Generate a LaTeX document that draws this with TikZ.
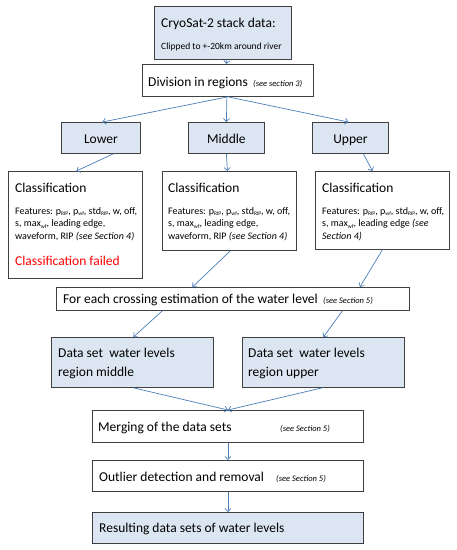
\documentclass[tikz,border=0pt]{standalone}
\usepackage{fontspec}
\setmainfont{Carlito}
\usetikzlibrary{arrows.meta,shadows}
\definecolor{boxfill}{HTML}{DCE6F2}
\definecolor{arrowblue}{HTML}{4A7EBB}
\definecolor{edgegray}{HTML}{404040}
\newcommand{\rsub}[1]{\raisebox{-0.35ex}{\fontsize{5.5}{6}\selectfont #1}}
\begin{document}
\begin{tikzpicture}[x=1pt,y=-1pt,
  box/.style={draw=edgegray, line width=0.8pt, inner sep=0pt, anchor=north west, fill=white,
    drop shadow={shadow xshift=1pt,shadow yshift=-1pt,fill=black,opacity=0.3}},
  bluebox/.style={box, fill=boxfill},
  txt/.style={inner sep=0pt, anchor=base west, font=\fontsize{13.5}{16}\selectfont},
  ctxt/.style={txt, anchor=base},
  small/.style={inner sep=0pt, anchor=base west, font=\fontsize{10}{12.4}\selectfont},
  ref/.style={inner sep=0pt, anchor=base west, font=\fontsize{8.5}{10}\selectfont\itshape},
  arr/.style={draw=arrowblue, line width=0.7pt, -{Straight Barb[length=3pt,width=6pt]}}]
\useasboundingbox (0,0) rectangle (457,550);

% boxes
\node[bluebox, minimum width=137pt, minimum height=53pt] (cryo) at (154,6) {};
\node[box, minimum width=171pt, minimum height=32pt] (div) at (142,64) {};
\node[bluebox, minimum width=79pt, minimum height=31pt] (lower) at (61,122) {};
\node[bluebox, minimum width=76pt, minimum height=31pt] (middle) at (188,122) {};
\node[bluebox, minimum width=76pt, minimum height=31pt] (upper) at (312,122) {};
\node[box, minimum width=134pt, minimum height=107pt] (lcl) at (8,171) {};
\node[box, minimum width=134pt, minimum height=79pt] (mcl) at (162,171) {};
\node[box, minimum width=134pt, minimum height=78pt] (ucl) at (315,171) {};
\node[box, minimum width=353pt, minimum height=23pt] (each) at (56,287) {};
\node[bluebox, minimum width=162pt, minimum height=50pt] (dsm) at (51,337) {};
\node[bluebox, minimum width=162pt, minimum height=50pt] (dsu) at (242,337) {};
\node[box, minimum width=271pt, minimum height=32pt] (merge) at (92,410) {};
\node[box, minimum width=271pt, minimum height=31pt] (outl) at (92,460) {};
\node[bluebox, minimum width=271pt, minimum height=31pt] (res) at (92,512) {};

% texts
\node[txt] (t1) at (161,27) {CryoSat-2 stack data:};
\node[txt, font=\fontsize{9.5}{11}\selectfont] (t2) at (161,49) {Clipped to +-20km around river};
\node[txt] (t3) at (148,86) {Division in regions};
\node[ref] (t3r) at (253,86) {(see section 3)};
\node[ctxt] (t4) at (lower.center |- 0,143) {Lower};
\node[ctxt] (t5) at (middle.center |- 0,143) {Middle};
\node[ctxt] (t6) at (upper.center |- 0,143) {Upper};

\node[txt] (c1) at (15,192) {Classification};
\node[small] (f1a) at (15,214) {Features: p\rsub{RIP}, p\rsub{wf}, std\rsub{RIP}, w, off,};
\node[small] (f1b) at (15,226.5) {s, max\rsub{wf}, leading edge,};
\node[small] (f1c) at (15,239) {waveform, RIP \textit{(see Section 4)}};
\node[txt, text=red] (fail) at (15,265) {Classification failed};

\node[txt] (c2) at (168,192) {Classification};
\node[small] (f2a) at (168,214) {Features: p\rsub{RIP}, p\rsub{wf}, std\rsub{RIP}, w, off,};
\node[small] (f2b) at (168,226.5) {s, max\rsub{wf}, leading edge,};
\node[small] (f2c) at (168,239) {waveform, RIP \textit{(see Section 4)}};

\node[txt] (c3) at (322,192) {Classification};
\node[small] (f3a) at (322,214) {Features: p\rsub{RIP}, p\rsub{wf}, std\rsub{RIP}, w, off,};
\node[small] (f3b) at (322,226.5) {s, max\rsub{wf}, leading edge \textit{(see}};
\node[small] (f3c) at (322,239) {\textit{Section 4)}};

\node[txt] (e1) at (63,303) {For each crossing estimation of the water level};
\node[ref] (e1r) at (323,303) {(see Section 5)};
\node[txt] (d1) at (58,357) {Data set~ water levels};
\node[txt] (d2) at (58,376) {region middle};
\node[txt] (d3) at (248,357) {Data set~ water levels};
\node[txt] (d4) at (248,376) {region upper};
\node[txt] (m1) at (98,431) {Merging of the data sets};
\node[ref] (m1r) at (280,431) {(see Section 5)};
\node[txt] (o1) at (99,481) {Outlier detection and removal};
\node[ref] (o1r) at (276,481) {(see Section 5)};
\node[txt] (r1) at (99,532) {Resulting data sets of water levels};

% arrows
\draw[arr] ([xshift=4pt]cryo.south) -- ([xshift=-1.5pt]div.north);
\draw[arr] (div.south) -- ([xshift=1.5pt]lower.north);
\draw[arr] ([xshift=-1pt]div.south) -- (middle.north);
\draw[arr] (div.south) -- ([xshift=-2pt]upper.north);
\draw[arr] ([xshift=12.5pt]lower.south) -- ([xshift=1pt]lcl.north);
\draw[arr] (middle.south) -- ([xshift=-2pt]mcl.north);
\draw[arr] ([xshift=13pt]upper.south) -- ([xshift=-10pt]ucl.north);
\draw[arr] ([xshift=1pt]mcl.south) -- ([xshift=-40.5pt]each.north);
\draw[arr] (ucl.south) -- ([xshift=127pt]each.north);
\draw[arr] ([xshift=-70.5pt]each.south) -- ([xshift=1pt]dsm.north);
\draw[arr] ([xshift=109.5pt]each.south) -- (dsu.north);
\draw[arr] ([xshift=1pt]dsm.south) -- (merge.north);
\draw[arr] ([xshift=-1pt]dsu.south) -- (merge.north);
\draw[arr] (merge.south) -- (outl.north);
\draw[arr] (outl.south) -- (res.north);
\end{tikzpicture}
\end{document}
